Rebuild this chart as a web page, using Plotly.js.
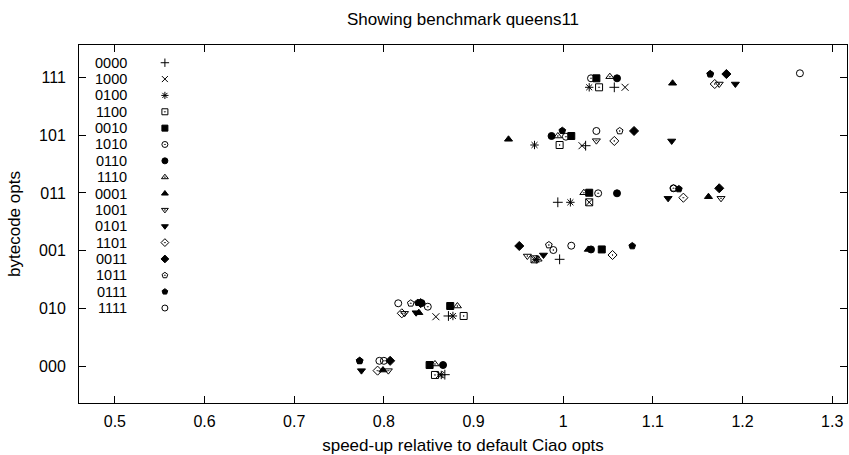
<!DOCTYPE html>
<html><head><meta charset="utf-8">
<script src="https://cdn.plot.ly/plotly-3.0.1.min.js"></script>
<style>html,body{margin:0;padding:0;background:#fff}#chart{width:849px;height:455px}</style>
</head><body><div id="chart"></div>
<script>
// Rows (y categories) in bottom-to-top order
const rowLabels = ["000","010","001","011","101","111"];
const seriesNames = ["0000","1000","0100","1100","0010","1010","0110","1110","0001","1001","0101","1101","0011","1011","0111","1111"];
const xTicks = [0.5,0.6,0.7,0.8,0.9,1,1.1,1.2,1.3];

// speed-up (x) and row position incl. small vertical jitter (y), one value per row
const x0000 = [0.868, 0.872, 0.996, 0.994, 1.025, 1.057];
const y0000 = [-0.15, 0.867, 1.849, 2.837, 3.818, 4.83];
const x1000 = [0.862, 0.858, 0.968, 1.029, 1.021, 1.069];
const y1000 = [-0.15, 0.854, 1.849, 2.837, 3.818, 4.83];
const x0100 = [0.864, 0.877, 0.970, 1.008, 0.968, 1.029];
const y0100 = [-0.155, 0.867, 1.849, 2.837, 3.83, 4.83];
const x1100 = [0.857, 0.889, 0.968, 1.029, 0.996, 1.040];
const y1100 = [-0.155, 0.867, 1.849, 2.837, 3.83, 4.83];
const x0010 = [0.851, 0.874, 1.043, 1.029, 1.009, 1.037];
const y0010 = [0.017, 1.04, 2.02, 3.003, 3.986, 4.986];
const x1010 = [0.800, 0.849, 0.989, 1.039, 1.003, 1.031];
const y1010 = [0.09, 1.028, 2.01, 2.993, 3.974, 4.986];
const x0110 = [0.866, 0.842, 1.031, 1.060, 0.987, 1.060];
const y0110 = [0.017, 1.09, 2.02, 2.993, 3.986, 4.986];
const x1110 = [0.857, 0.882, 0.972, 1.023, 0.994, 1.052];
const y1110 = [0.035, 1.04, 1.85, 3.003, 3.986, 5.014];
const x0001 = [0.799, 0.839, 1.028, 1.162, 0.939, 1.122];
const y0001 = [-0.07, 0.924, 2.02, 2.934, 3.929, 4.9];
const x1001 = [0.805, 0.823, 0.960, 1.176, 1.037, 1.174];
const y1001 = [-0.08, 0.913, 1.906, 2.906, 3.905, 4.887];
const x0101 = [0.775, 0.836, 0.978, 1.117, 1.121, 1.192];
const y0101 = [-0.08, 0.924, 1.924, 2.906, 3.9, 4.887];
const x1101 = [0.793, 0.820, 1.055, 1.134, 1.057, 1.169];
const y1101 = [-0.08, 0.913, 1.924, 2.917, 3.9, 4.887];
const x0011 = [0.807, 0.841, 0.951, 1.174, 1.079, 1.182];
const y0011 = [0.09, 1.09, 2.08, 3.08, 4.073, 5.06];
const x1011 = [0.773, 0.830, 0.984, 1.123, 1.063, 1.164];
const y1011 = [0.09, 1.087, 2.097, 3.08, 4.073, 5.06];
const x0111 = [0.773, 0.838, 1.077, 1.129, 0.999, 1.164];
const y0111 = [0.09, 1.097, 2.08, 3.068, 4.078, 5.06];
const x1111 = [0.795, 0.816, 1.009, 1.123, 1.037, 1.264];
const y1111 = [0.09, 1.087, 2.085, 3.08, 4.073, 5.073];

const xs = [x0000,x1000,x0100,x1100,x0010,x1010,x0110,x1110,x0001,x1001,x0101,x1101,x0011,x1011,x0111,x1111];
const ys = [y0000,y1000,y0100,y1100,y0010,y1010,y0110,y1110,y0001,y1001,y0101,y1101,y0011,y1011,y0111,y1111];
const symbols = ["cross-thin-open","x-thin-open","asterisk-open","square-open-dot","square","circle-open-dot","circle","triangle-up-open-dot","triangle-up","triangle-down-open-dot","triangle-down","diamond-open-dot","diamond","pentagon-open-dot","pentagon","circle-open"];

const FONT = "Liberation Sans, Arial, Helvetica, sans-serif";
const traces = seriesNames.map((n,i)=>({
  type:"scatter", mode:"markers", name:n, x:xs[i], y:ys[i], showlegend:false,
  marker:{symbol:symbols[i], size:7, color:"#000", line:{color:"#000", width:1}}
}));

// legend key (gnuplot style: label, then symbol)
const legTop = 5.256, legStep = 0.2834, legSymX = 0.5558, legTxtX = 0.5145;
traces.push({
  type:"scatter", mode:"markers", showlegend:false, hoverinfo:"skip",
  x: seriesNames.map(()=>legSymX), y: seriesNames.map((_,i)=>legTop-i*legStep),
  marker:{symbol:symbols, size:6, color:"#000", line:{color:"#000", width:1}}
});
const annotations = seriesNames.map((n,i)=>({
  x:legTxtX, y:legTop-i*legStep, xref:"x", yref:"y", text:n, showarrow:false, borderpad:0,
  xanchor:"right", yanchor:"middle", font:{family:FONT, size:14.5, color:"#000"}
}));

const layout = {
  width:849, height:455,
  margin:{l:79, r:2, t:45, b:52},
  paper_bgcolor:"#fff", plot_bgcolor:"#fff",
  font:{family:FONT, size:16, color:"#000"},
  title:{text:"Showing benchmark queens11", x:0.5, xref:"paper", y:1-19/455, yref:"container", yanchor:"middle", font:{family:FONT, size:17, color:"#000"}},
  xaxis:{range:[0.46,1.3165], tickvals:xTicks, ticks:"inside", ticklen:7, tickwidth:1, tickcolor:"#000",
    showline:true, linecolor:"#000", linewidth:1, mirror:"allticks", showgrid:false, zeroline:false,
    ticklabelstandoff:4,
    title:{text:"speed-up relative to default Ciao opts", standoff:13, font:{family:FONT, size:17}}},
  yaxis:{range:[-0.641,5.563], tickvals:rowLabels.map((_,i)=>i), ticktext:rowLabels, ticks:"inside", ticklen:7, tickwidth:1, tickcolor:"#000",
    showline:true, linecolor:"#000", linewidth:1, mirror:"allticks", showgrid:false, zeroline:false,
    ticklabelstandoff:9,
    title:{text:"bytecode opts", standoff:14, font:{family:FONT, size:17}}},
  annotations:annotations
};
Plotly.newPlot("chart", traces, layout, {staticPlot:true});
</script></body></html>
